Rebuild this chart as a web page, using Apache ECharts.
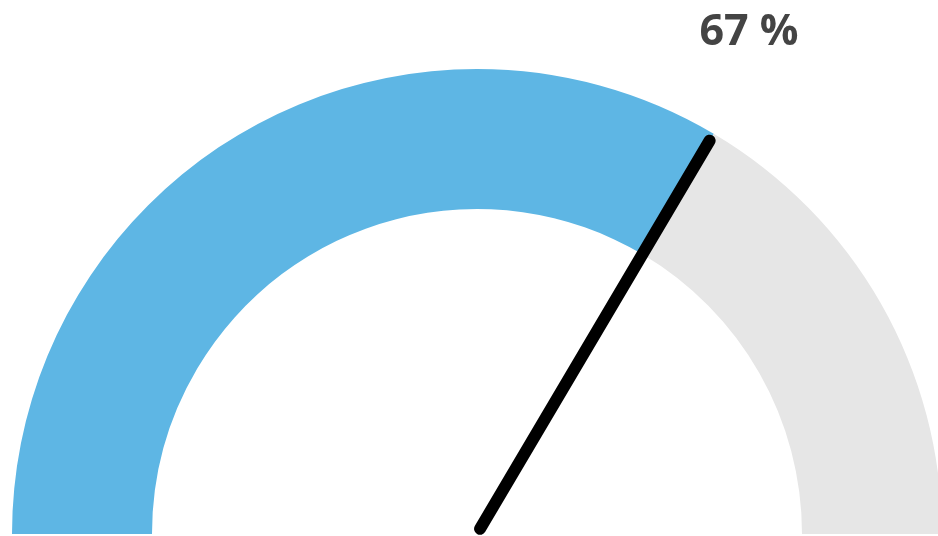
<!DOCTYPE html>
<html><head><meta charset="utf-8">
<script src="https://cdn.jsdelivr.net/npm/echarts@6/dist/echarts.min.js"></script>
<style>html,body{margin:0;padding:0;background:#fff}#c{width:938px;height:536px}</style>
</head><body><div id="c"></div>
<script>
const gaugeValue = 67;
const gaugeMin = 0;
const gaugeMax = 100;
const bandStops = [0.67, 1];
const bandColors = ['#5EB6E4', '#E6E6E6'];

const chart = echarts.init(document.getElementById('c'), null, {renderer: 'canvas'});
chart.setOption({
  animation: false,
  series: [{
    type: 'gauge',
    center: [477, 534],
    radius: 465,
    startAngle: 180,
    endAngle: 0,
    min: gaugeMin,
    max: gaugeMax,
    axisLine: {
      lineStyle: {
        width: 140,
        color: bandStops.map((s, i) => [s, bandColors[i]])
      }
    },
    axisTick: {show: false},
    splitLine: {show: false},
    axisLabel: {show: false},
    pointer: {
      icon: 'path://M6,0 A6,6 0 0 1 12,6 L12,454 A6,6 0 0 1 0,454 L0,6 A6,6 0 0 1 6,0 Z',
      length: 463,
      width: 12,
      itemStyle: {color: '#000'}
    },
    anchor: {show: false},
    title: {show: false},
    detail: {
      formatter: '{value} %',
      offsetCenter: [272, -501],
      fontFamily: 'Open Sans',
      fontWeight: 'bold',
      fontSize: 43,
      color: '#444444'
    },
    data: [{value: gaugeValue}]
  }]
});
</script></body></html>
